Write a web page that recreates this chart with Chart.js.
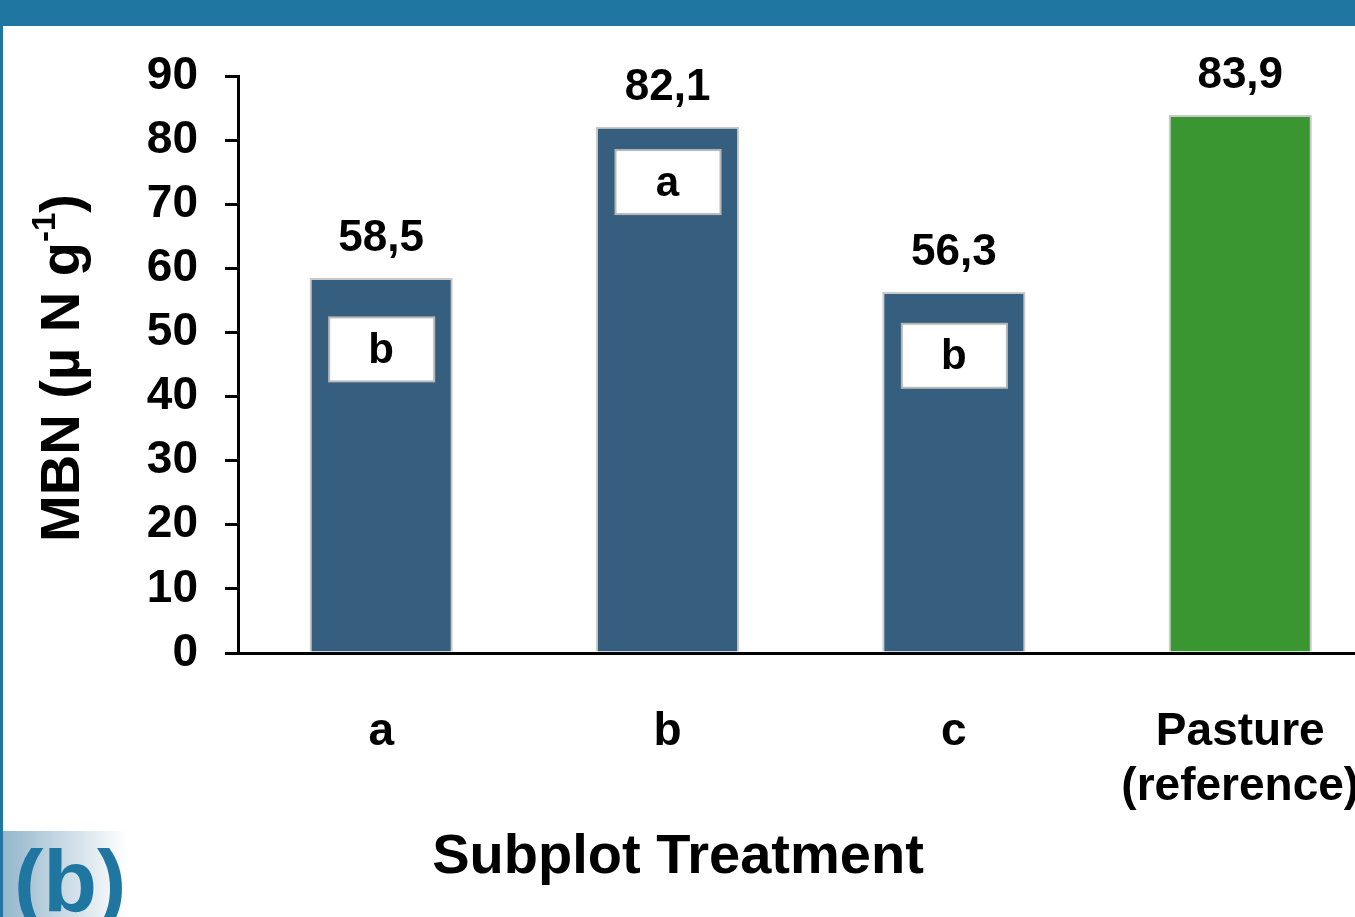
<!DOCTYPE html>
<html>
<head>
<meta charset="utf-8">
<script src="https://cdn.jsdelivr.net/npm/chart.js@4.4.0/dist/chart.umd.min.js"></script>
<style>
  body { margin: 0; width: 1355px; height: 917px; overflow: hidden; background: #fff; position: relative; font-family: "Liberation Sans", Arial, sans-serif; }
  #topband { position: absolute; left: 0; top: 0; width: 1355px; height: 26px; background: #1f76a0; }
  #leftline { position: absolute; left: 0; top: 26px; width: 3px; height: 891px; background: #1f76a0; }
  #tag { position: absolute; left: 3px; top: 831px; width: 124px; height: 86px; background: linear-gradient(to right, #94b6cc, #ffffff); overflow: hidden; }
  #tag span { position: absolute; left: 11px; top: 6px; font-weight: bold; font-size: 88px; line-height: 1; color: #1f76a0; }
  #wrap { position: absolute; left: 0; top: 0; }
</style>
</head>
<body>
<div id="topband"></div>
<div id="leftline"></div>
<div id="tag"><span>(b)</span></div>
<div id="wrap"><canvas id="mbnChart" width="1412" height="917"></canvas></div>
<script>
const categories = ['a', 'b', 'c', ['Pasture', '(reference)']];
const mbnValues = [58.5, 82.1, 56.3, 83.9];
const letters = ['b', 'a', 'b', null];
const letterLevels = [47.2, 73.3, 46.2, null];
const yTicks = [0, 10, 20, 30, 40, 50, 60, 70, 80, 90];

const FONT = '"Liberation Sans", Arial, sans-serif';

const annotate = {
    id: 'annotate',
    afterDatasetsDraw(chart) {
        const ctx = chart.ctx;
        const meta = chart.getDatasetMeta(0);
        const y = chart.scales.y;
        ctx.save();
        meta.data.forEach(function (bar, i) {
            ctx.fillStyle = '#000';
            ctx.font = 'bold 44px ' + FONT;
            ctx.textAlign = 'center';
            ctx.textBaseline = 'middle';
            ctx.fillText(mbnValues[i].toFixed(1).replace('.', ','), bar.x, bar.y - 39);

            if (letters[i]) {
                const cy = y.getPixelForValue(letterLevels[i]);
                ctx.fillStyle = '#fff';
                ctx.fillRect(bar.x - 52, cy - 33, 105, 64);
                ctx.strokeStyle = '#b9b9b9';
                ctx.lineWidth = 2;
                ctx.strokeRect(bar.x - 52, cy - 33, 105, 64);
                ctx.fillStyle = '#000';
                ctx.font = 'bold 42px ' + FONT;
                ctx.fillText(letters[i], bar.x, cy + 1);
            }
        });
        ctx.restore();
    },
    afterDraw(chart) {
        const ctx = chart.ctx;
        ctx.save();
        ctx.fillStyle = '#000';
        ctx.textBaseline = 'middle';

        // x axis title
        ctx.font = 'bold 56px ' + FONT;
        ctx.textAlign = 'center';
        ctx.fillText('Subplot Treatment', 678, 858);

        // y axis title with superscript
        ctx.translate(64, 368);
        ctx.rotate(-Math.PI / 2);
        const main = 'MBN (\u00b5 N g';
        const sup = '-1';
        const tail = ')';
        ctx.font = 'bold 56px ' + FONT;
        const w1 = ctx.measureText(main).width;
        const w3 = ctx.measureText(tail).width;
        ctx.font = 'bold 33px ' + FONT;
        const w2 = ctx.measureText(sup).width;
        let x = -(w1 + w2 + w3) / 2;
        ctx.textAlign = 'left';
        ctx.font = 'bold 56px ' + FONT;
        ctx.fillText(main, x, 0);
        x += w1;
        ctx.font = 'bold 33px ' + FONT;
        ctx.fillText(sup, x, -18);
        x += w2;
        ctx.font = 'bold 56px ' + FONT;
        ctx.fillText(tail, x, 0);
        ctx.restore();
    }
};

new Chart(document.getElementById('mbnChart'), {
    type: 'bar',
    data: {
        labels: categories,
        datasets: [{
            data: mbnValues,
            backgroundColor: ['#365f7f', '#365f7f', '#365f7f', '#3a9630'],
            borderColor: '#c9c9c9',
            borderWidth: 2,
            borderSkipped: 'start',
            barPercentage: 0.5,
            categoryPercentage: 1
        }]
    },
    options: {
        responsive: false,
        animation: false,
        layout: { padding: { top: 76, right: 7, left: 0, bottom: 0 } },
        plugins: { legend: { display: false }, tooltip: { enabled: false } },
        scales: {
            x: {
                grid: { display: false, drawTicks: false },
                border: { color: '#000', width: 3 },
                ticks: {
                    color: '#000',
                    font: { family: FONT, size: 46, weight: 'bold', lineHeight: 1.2 },
                    padding: 52,
                    maxRotation: 0
                },
                afterFit(scale) { scale.height = 264; }
            },
            y: {
                min: 0,
                max: 90,
                afterBuildTicks(scale) { scale.ticks = yTicks.map(v => ({ value: v })); },
                grid: { drawOnChartArea: false, tickLength: 13, color: '#000', lineWidth: 3 },
                border: { color: '#000', width: 3 },
                ticks: {
                    color: '#000',
                    font: { family: FONT, size: 46, weight: 'bold' },
                    padding: 27
                },
                afterFit(scale) { scale.width = 238; }
            }
        }
    },
    plugins: [annotate]
});
</script>
</body>
</html>
